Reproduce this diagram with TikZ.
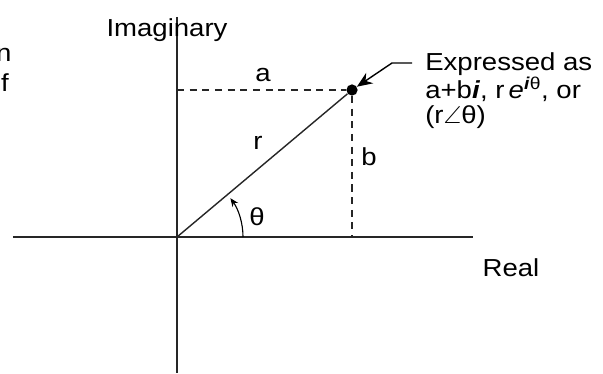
\documentclass[tikz,border=0pt]{standalone}
\usepackage{amsmath}
\usepackage{amssymb}
\usepackage{fontspec}
\setmainfont{Liberation Sans}[FakeStretch=1.12]
\usepackage{tikz}
\usetikzlibrary{
    arrows.meta,
    positioning,
    calc
}
\tikzset{
  axis/.style    = {line width=1pt, black!85},
  dashln/.style  = {dash pattern=on 5pt off 4pt, line width=0.8pt, black!85},
  lbl/.style     = {font=\fontsize{17.5}{17.7}\selectfont, inner sep=0pt},
  arr/.style     = {-{Stealth[length=11pt,width=9pt]}, line width=1pt},
  arrs/.style    = {-{Stealth[length=6pt,width=5pt]}, line width=0.8pt}
}

\begin{document}
\begin{tikzpicture}
\useasboundingbox (-4.425,-3.4) rectangle (10.65,5.925);
\coordinate (O) at (0,0);
\node[circle, fill=black, inner sep=0pt, minimum size=8pt] (pt) at (4.375,3.675) {};
\draw[axis] (-4.1,0) coordinate (xl) -- (7.4,0) coordinate (xr);
\draw[axis] (0,5.5) coordinate (yt) -- (0,-3.4) coordinate (yb);
\draw[dashln] (0,3.675) -- (pt);
\draw[dashln] (pt) -- (4.375,0);
\draw[axis] (O) -- (pt);
\draw[arrs] (1.65,0) arc[start angle=0, end angle=36, radius=1.65];
\node[lbl] (ima) at (-0.25,5.18) {Imaginary};
\node[lbl] (real) at (8.35,-0.78) {Real};
\node[lbl] (la) at (2.15,4.05) {a};
\node[lbl] (lr) at (2.025,2.35) {r};
\node[lbl] (lb) at (4.8,2.0) {b};
\node[lbl] (lt) at (2.0,0.5) {θ};
\node[lbl, font=\fontsize{17.5}{18.3}\selectfont, anchor=north west, align=left] (expr) at (6.2,4.62)
  {Expressed as\\a+b\textbf{\textit{i}}, r\,\textit{e}\textsuperscript{\textbf{\textit{i}}θ}, or\\(r$\angle$θ)};
\node[lbl] (fn) at (-4.33,4.55) {n};
\node[lbl] (ff) at (-4.3,3.85) {f};
\coordinate (astart) at (5.875,4.35);
\draw[arr] (astart) -- ++(-0.5,0) -- (pt);
\end{tikzpicture}
\end{document}
